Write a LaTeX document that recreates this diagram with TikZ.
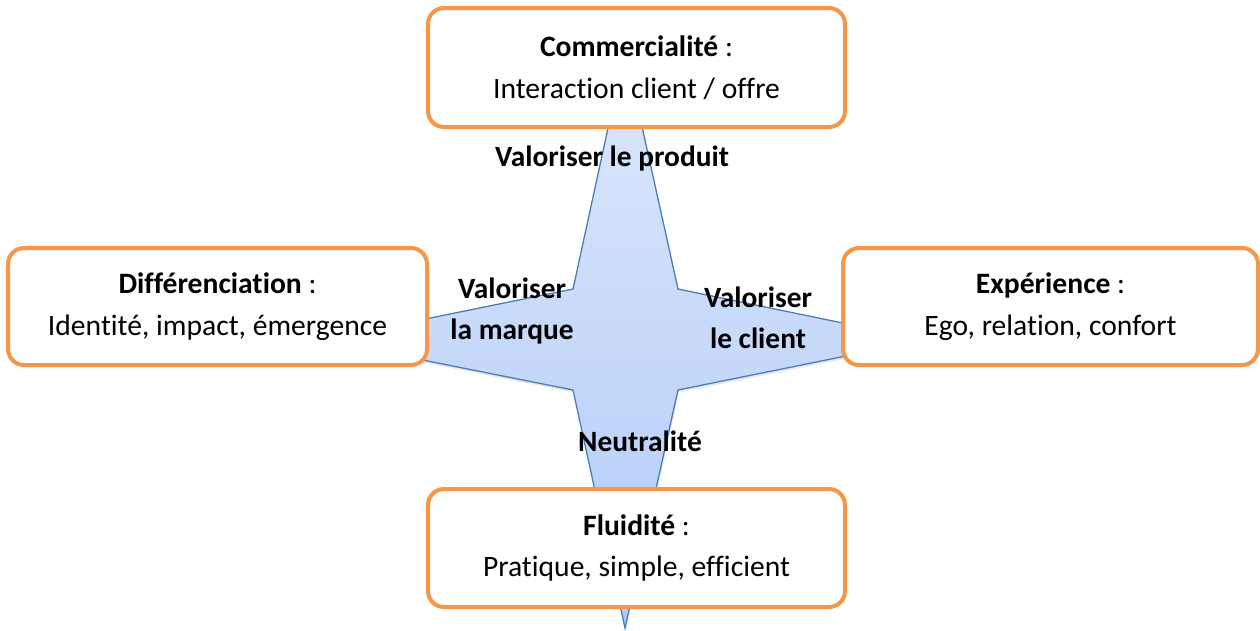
\documentclass[tikz,border=0pt]{standalone}
\usepackage{fontspec}
\setmainfont{Carlito}[Ligatures={NoCommon}]
\usetikzlibrary{shadows}
\definecolor{boxorange}{HTML}{F79646}
\definecolor{staredge}{HTML}{4A7EBB}
\definecolor{startop}{HTML}{DEE8FB}
\definecolor{starbot}{HTML}{B0CBF8}
\tikzset{
  infobox/.style={draw=boxorange, line width=4pt, rounded corners=16pt, fill=white,
    align=center, inner sep=0pt, font=\fontsize{29.6}{41.5}\selectfont},
  starlabel/.style={align=center, inner sep=0pt, font=\bfseries\fontsize{29.4}{41}\selectfont}
}
\begin{document}
\begin{tikzpicture}[x=1pt,y=-1pt]
\useasboundingbox (0,0) rectangle (1260,630);
% star
\coordinate (sT) at (625,50);
\coordinate (sTR) at (678,289);
\coordinate (sR) at (925,340);
\coordinate (sBR) at (678,390);
\coordinate (sB) at (625,628);
\coordinate (sBL) at (573,390);
\coordinate (sL) at (322,340);
\coordinate (sTL) at (573,289);
\path[draw=staredge, line width=1.3pt, line join=miter, top color=startop, bottom color=starbot,
  drop shadow={shadow xshift=1pt, shadow yshift=-2.5pt, opacity=0.18}]
  (sT) -- (sTR) -- (sR) -- (sBR) -- (sB) -- (sBL) -- (sL) -- (sTL) -- cycle;
% boxes
\node[infobox, minimum width=417pt, minimum height=119pt] (top) at (636.5,67.5)
  {\textbf{Commercialité} :\\Interaction client / offre};
\node[infobox, minimum width=419pt, minimum height=117pt] (left) at (217.5,306.5)
  {\textbf{Différenciation} :\\Identité, impact, émergence};
\node[infobox, minimum width=415pt, minimum height=117pt] (right) at (1050.5,306.5)
  {\textbf{Expérience} :\\Ego, relation, confort};
\node[infobox, minimum width=417pt, minimum height=118pt] (bottom) at (636.5,548)
  {\textbf{Fluidité} :\\Pratique, simple, efficient};
% labels
\node[starlabel] (lprod) at (612,158) {Valoriser le produit};
\node[starlabel] (lmarq) at (512,311) {Valoriser\\la marque};
\node[starlabel] (lcli) at (758,318) {Valoriser\\le client};
\node[starlabel] (lneut) at (640,441) {Neutralité};
\end{tikzpicture}
\end{document}
